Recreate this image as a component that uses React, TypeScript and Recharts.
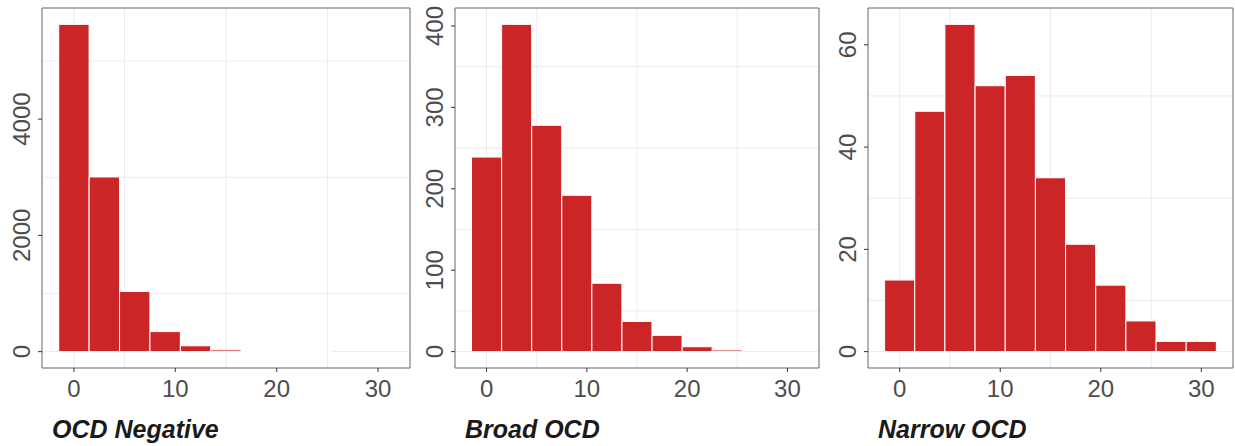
import React from 'react';
import { BarChart, Bar, XAxis, YAxis, CartesianGrid, ReferenceArea } from 'recharts';

// bin centres (binwidth 3)
const BINS = [0, 3, 6, 9, 12, 15, 18, 21, 24, 27, 30];

// counts per bin
const OCD_NEGATIVE = [5630, 3005, 1035, 345, 100, 30, 8, 3, 1, 0, 0];
const BROAD_OCD = [239, 402, 278, 192, 84, 37, 20, 6, 2, 0, 0];
const NARROW_OCD = [14, 47, 64, 52, 54, 34, 21, 13, 6, 2, 2];

// axis ticks
const X_TICKS = [0, 10, 20, 30];
const X_MINOR = [5, 15, 25];
const NEG_TICKS = [0, 2000, 4000];
const NEG_MINOR = [1000, 3000, 5000];
const BROAD_TICKS = [0, 100, 200, 300, 400];
const BROAD_MINOR = [50, 150, 250, 350];
const NARROW_TICKS = [0, 20, 40, 60];
const NARROW_MINOR = [10, 30, 50];

const X_DOMAIN = [-3.15, 33.15];
const BAR_FILL = '#cb2527';
const TEXT_GREY = '#4d4d4d';
const FONT = '"Liberation Sans", Arial, Helvetica, sans-serif';

const HEIGHT = 446;
const PLOT_TOP = 8;
const PLOT_BOTTOM = 368;

interface PanelProps {
  title: string;
  counts: number[];
  yTicks: number[];
  yMinor: number[];
  left: number;
  width: number;
  yAxisWidth: number;
  rightMargin: number;
}

const YTick = (props: any) => {
  const { x, y, payload } = props;
  const cx = x - 14;
  return (
    <text
      x={cx}
      y={y}
      transform={`rotate(-90, ${cx}, ${y})`}
      textAnchor="middle"
      dominantBaseline="central"
      fill={TEXT_GREY}
      fontSize={24}
      fontFamily={FONT}
    >
      {payload.value}
    </text>
  );
};

function Panel({ title, counts, yTicks, yMinor, left, width, yAxisWidth, rightMargin }: PanelProps) {
  const data = BINS.map((bin, i) => ({ bin, count: counts[i] }));
  const max = Math.max(...counts);
  // ggplot style 5% expansion
  const yDomain = [-0.05 * max, 1.05 * max];
  const plotWidth = width - yAxisWidth - rightMargin;
  // just under the band size, otherwise recharts shrinks bars to 90%
  const barSize = (plotWidth / (X_DOMAIN[1] - X_DOMAIN[0])) * 3 - 0.05;

  return (
    <div style={{ position: 'absolute', left, top: 0, width, height: HEIGHT }}>
      <BarChart
        width={width}
        height={HEIGHT}
        data={data}
        margin={{ top: PLOT_TOP, right: rightMargin, bottom: 0, left: 0 }}
      >
        <CartesianGrid
          stroke="#ebebeb"
          strokeWidth={1}
          horizontalValues={[...yTicks, ...yMinor]}
          verticalValues={[...X_TICKS, ...X_MINOR]}
        />
        <XAxis
          dataKey="bin"
          type="number"
          domain={X_DOMAIN}
          allowDataOverflow
          ticks={X_TICKS}
          height={HEIGHT - PLOT_BOTTOM}
          tickSize={4}
          tickMargin={8}
          axisLine={false}
          tickLine={{ stroke: '#333' }}
          tick={{ fill: TEXT_GREY, fontSize: 24, fontFamily: FONT }}
        />
        <YAxis
          type="number"
          domain={yDomain}
          allowDataOverflow
          ticks={yTicks}
          width={yAxisWidth}
          tickSize={4}
          tickMargin={2}
          axisLine={false}
          tickLine={{ stroke: '#333' }}
          tick={<YTick />}
        />
        <Bar
          dataKey="count"
          fill={BAR_FILL}
          stroke="#ffffff"
          strokeWidth={1}
          barSize={barSize}
          isAnimationActive={false}
        />
        <ReferenceArea
          x1={X_DOMAIN[0]}
          x2={X_DOMAIN[1]}
          y1={yDomain[0]}
          y2={yDomain[1]}
          fill="none"
          stroke="#666666"
          strokeWidth={1}
          ifOverflow="visible"
        />
      </BarChart>
      <div
        style={{
          position: 'absolute',
          left: yAxisWidth + 10,
          top: 417,
          fontFamily: FONT,
          fontSize: 25,
          lineHeight: '25px',
          fontWeight: 'bold',
          fontStyle: 'italic',
          color: '#1a1a1a',
          whiteSpace: 'nowrap',
        }}
      >
        {title}
      </div>
    </div>
  );
}

export default function App() {
  return (
    <div
      style={{
        position: 'fixed',
        left: 0,
        top: 0,
        width: 1235,
        height: HEIGHT,
        background: '#ffffff',
        fontFamily: FONT,
      }}
    >
      <Panel
        title="OCD Negative"
        counts={OCD_NEGATIVE}
        yTicks={NEG_TICKS}
        yMinor={NEG_MINOR}
        left={0}
        width={412}
        yAxisWidth={42}
        rightMargin={2}
      />
      <Panel
        title="Broad OCD"
        counts={BROAD_OCD}
        yTicks={BROAD_TICKS}
        yMinor={BROAD_MINOR}
        left={412}
        width={412}
        yAxisWidth={43}
        rightMargin={5}
      />
      <Panel
        title="Narrow OCD"
        counts={NARROW_OCD}
        yTicks={NARROW_TICKS}
        yMinor={NARROW_MINOR}
        left={824}
        width={411}
        yAxisWidth={44}
        rightMargin={2}
      />
    </div>
  );
}
